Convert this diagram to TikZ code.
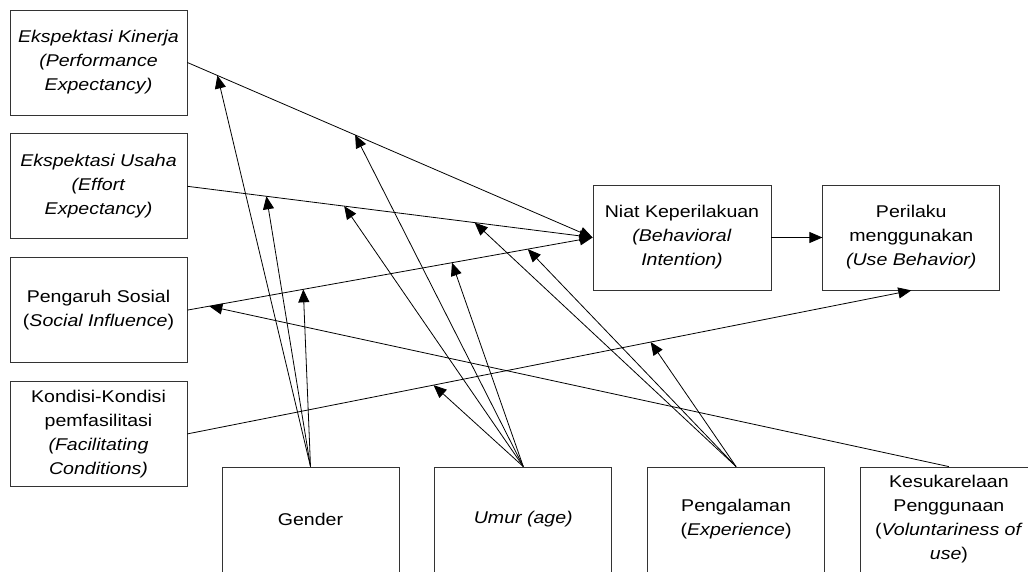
\documentclass[tikz,border=0pt]{standalone}
\usepackage{fontspec}
\setmainfont{Liberation Sans}[FakeStretch=1.15]
\usetikzlibrary{arrows.meta,positioning}

\begin{document}
\begin{tikzpicture}[x=1pt,y=-1pt,
	box/.style={draw=black!80, line width=0.8pt, minimum width=177pt, minimum height=105pt,
		inner sep=1pt, align=center, font=\fontsize{17}{24}\selectfont},
	link/.style={-{Triangle[length=13pt,width=11pt]}, line width=0.8pt},
	node distance=18pt]
	\clip (0,0) rectangle (1028,572);

	% determinants
	\node[box] (pe) at (98.5,62.5) {\textit{Ekspektasi Kinerja}\\\textit{(Performance}\\\textit{Expectancy)}};
	\node[box] (ee) [below=of pe] {\textit{Ekspektasi Usaha}\\\textit{(Effort}\\\textit{Expectancy)}};
	\node[box] (si) [below=of ee] {Pengaruh Sosial\\(\textit{Social Influence})};
	\node[box] (fc) [below=of si] {Kondisi-Kondisi\\pemfasilitasi\\\textit{(Facilitating}\\\textit{Conditions)}};

	\node[box, minimum width=178pt] (bi) at (682,237.5) {Niat Keperilakuan\\\textit{(Behavioral}\\\textit{Intention)}};
	\node[box] (ub) [right=51pt of bi] {Perilaku\\menggunakan\\\textit{(Use Behavior)}};

	% moderators
	\node[box] (gender) at (310.5,519.5) {Gender};
	\node[box] (umur) [right=35pt of gender] {\textit{Umur (age)}};
	\node[box] (exp) [right=35pt of umur] {Pengalaman\\(\textit{Experience})};
	\node[box] (vol) [right=35pt of exp] {Kesukarelaan\\Penggunaan\\(\textit{Voluntariness of}\\\textit{use})};

	\draw[link] (pe.east) -- coordinate[pos=.074] (pe-g) coordinate[pos=.414] (pe-u) (bi.west);
	\draw[link] (ee.east) -- coordinate[pos=.195] (ee-g) coordinate[pos=.387] (ee-u)
		coordinate[pos=.709] (ee-p) (bi.west);
	\draw[link] (si.east) -- coordinate[pos=.054] (si-k) coordinate[pos=.286] (si-g)
		coordinate[pos=.653] (si-u) coordinate[pos=.84] (si-p) (bi.west);
	\draw[link] (fc.east) -- coordinate[pos=.34] (fc-u) coordinate[pos=.64] (fc-p) (ub.south);
	\draw[link] (bi) -- (ub);

	\path[link]
	(gender.north) edge (pe-g)
	               edge (ee-g)
	               edge (si-g)
	(umur.north)   edge (pe-u)
	               edge (ee-u)
	               edge (si-u)
	               edge (fc-u)
	(exp.north)    edge (ee-p)
	               edge (si-p)
	               edge (fc-p)
	(vol.north)    edge (si-k);
\end{tikzpicture}
\end{document}
